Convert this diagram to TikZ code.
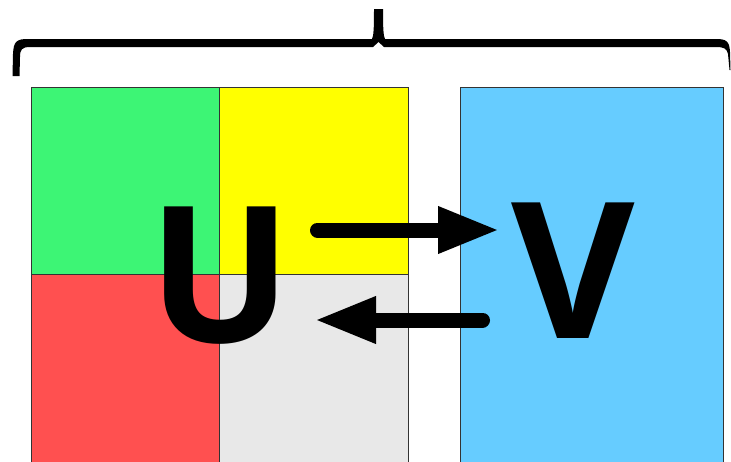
\documentclass[tikz,border=0pt]{standalone}
\usepackage{fontspec}
\setmainfont{Open Sans}
\usetikzlibrary{arrows.meta}
\definecolor{cgreen}{HTML}{3DF575}
\definecolor{cyellow}{HTML}{FFFF00}
\definecolor{cred}{HTML}{FF5050}
\definecolor{cgray}{HTML}{E8E8E8}
\definecolor{cblue}{HTML}{66CCFF}
\definecolor{cedge}{HTML}{333333}
\begin{document}
\begin{tikzpicture}[x=1pt,y=-1pt,
  cell/.style={draw=cedge,line width=0.9pt},
  bigletter/.style={inner sep=0pt,anchor=base,font=\fontsize{190}{190}\selectfont\bfseries},
  fatarrow/.style={line width=15pt,line cap=round,-{Triangle[length=62pt,width=43pt]}}]
\useasboundingbox (0,0) rectangle (731,461);
\clip (0,0) rectangle (731,461);
% cells
\path[cell,fill=cgreen] (31,87) rectangle (219,274);
\path[cell,fill=cyellow] (219,87) rectangle (408,274);
\path[cell,fill=cred] (31,274) rectangle (219,470);
\path[cell,fill=cgray] (219,274) rectangle (408,470);
\path[cell,fill=cblue] (460,87) rectangle (723,470);
% brace
\fill[black] (12.5,76) -- (13,54) .. controls (13.5,41) and (17,39) .. (28,39)
  -- (372,39) .. controls (373.5,36) and (374,30) .. (374,9) -- (383,9)
  .. controls (383,30) and (383.5,36) .. (385,39)
  -- (716,39) .. controls (726,39) and (729.5,41) .. (730,52) -- (730.5,70) -- (729.5,70)
  -- (728,54) .. controls (727,48.5) and (724,47) .. (716,47)
  -- (384,47) -- (378.5,42) -- (373,47)
  -- (30,47) .. controls (22,47) and (20,49.5) .. (20,57) -- (19.5,76) -- cycle;
% letters
\node[bigletter] (U) at (220,342) {U};
\node[bigletter] (V) at (573.5,338) {V};
% arrows
\coordinate (a1s) at (317.5,230);
\coordinate (a1e) at (500,230);
\coordinate (a2s) at (482.5,320);
\coordinate (a2e) at (314,320);
\draw[fatarrow] (a1s) -- (a1e);
\draw[fatarrow] (a2s) -- (a2e);
\end{tikzpicture}
\end{document}
